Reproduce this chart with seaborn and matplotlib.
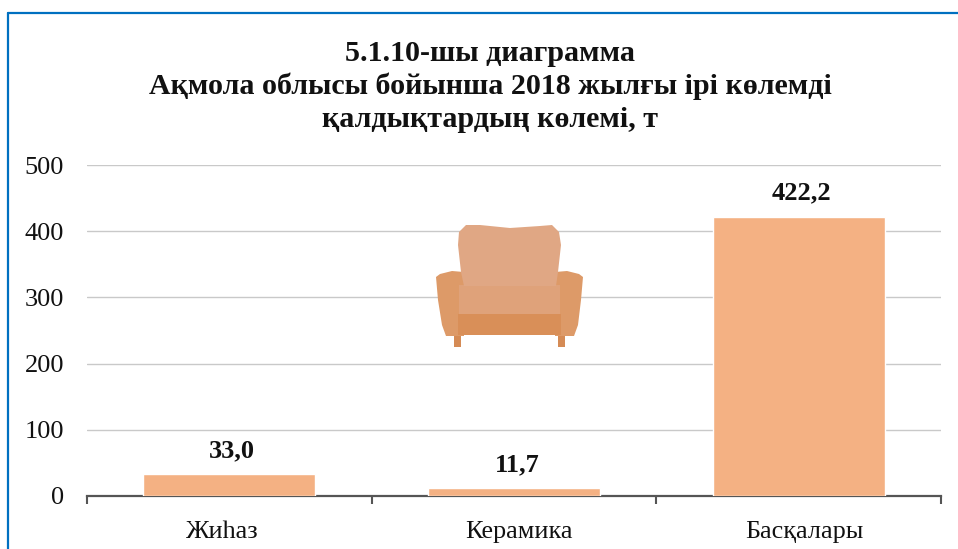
import matplotlib
matplotlib.use("Agg")
import matplotlib.pyplot as plt
from matplotlib.patches import Polygon
from matplotlib.lines import Line2D
from matplotlib.transforms import ScaledTranslation
import seaborn as sns
import pandas as pd

# Data
categories = ["Жиһаз", "Керамика", "Басқалары"]
values = [33.0, 11.7, 422.2]
value_labels = ["33,0", "11,7", "422,2"]
y_ticks = [0, 100, 200, 300, 400, 500]
title_text = "5.1.10-шы диаграмма\nАқмола облысы бойынша 2018 жылғы ірі көлемді\nқалдықтардың көлемі, т"

W, H = 958, 549
FONT = "Liberation Serif"
BAR_COLOR = "#F4B183"
TEXT_COLOR = "#111111"


def px(points):
    # image pixels -> figure fraction
    return [(x / W, 1 - y / H) for x, y in points]


def add_shape(fig, points, color, z=5):
    fig.add_artist(Polygon(px(points), closed=True, transform=fig.transFigure,
                           facecolor=color, edgecolor="none", zorder=z))


sns.set_theme(style="white")
plt.rcParams["font.family"] = [FONT, "DejaVu Serif"]

df = pd.DataFrame({"category": categories, "value": values})

fig = plt.figure(figsize=(W / 100, H / 100), dpi=100)
ax = fig.add_axes([87 / W, 1 - 496 / H, (941 - 87) / W, (496 - 165) / H])

sns.barplot(data=df, x="category", y="value", color=BAR_COLOR, saturation=1,
            width=0.605, ax=ax, zorder=3)

ax.set_xlim(-0.5, 2.5)
ax.set_ylim(0, 500)
ax.set_xlabel("")
ax.set_ylabel("")
ax.set_yticks(y_ticks)
ax.yaxis.grid(True, color="#C9C9C9", linewidth=1.0)
ax.set_axisbelow(True)
ax.tick_params(axis="y", length=0, labelsize=19, labelcolor=TEXT_COLOR, pad=16.5)
ax.tick_params(axis="x", which="major", length=0, labelsize=18.8, labelcolor=TEXT_COLOR, pad=18)
ax.set_xticks([-0.5, 0.5, 1.5, 2.5], minor=True)
ax.tick_params(axis="x", which="minor", length=5.5, width=1.5, color="#555555", bottom=True)

# category labels sit slightly off the bar centres in the original
for tick_label, dx in zip(ax.get_xticklabels(), [-7, 5, 6]):
    tick_label.set_transform(tick_label.get_transform()
                             + ScaledTranslation(dx / 100, 0, fig.dpi_scale_trans))

sns.despine(ax=ax, left=True, top=True, right=True)
ax.spines["bottom"].set_color("#555555")
ax.spines["bottom"].set_linewidth(1.6)

for i, (v, lab) in enumerate(zip(values, value_labels)):
    ax.annotate(lab, (i, v), xytext=(2, 16.8), textcoords="offset points", ha="center",
                va="center", fontsize=19, fontweight="bold", color=TEXT_COLOR)

fig.text(490 / W, 1 - 86.5 / H, title_text, ha="center", va="center", fontsize=21.6,
         fontweight="bold", color=TEXT_COLOR, linespacing=1.26)

# armchair decoration
add_shape(fig, [(454, 335), (461, 335), (461, 347), (454, 347)], "#D58B55")
add_shape(fig, [(558, 335), (565, 335), (565, 347), (558, 347)], "#D58B55")
add_shape(fig, [(436, 277), (440, 274), (452, 271), (464, 272), (464, 336), (446, 336), (442, 325), (438, 300)], "#DD9A68")
add_shape(fig, [(583, 277), (579, 274), (567, 271), (555, 272), (555, 336), (574, 336), (578, 325), (581, 300)], "#DD9A68")
add_shape(fig, [(458, 314), (561, 314), (561, 335), (458, 335)], "#D98F58")
add_shape(fig, [(459, 285), (560, 285), (560, 314), (459, 314)], "#DFA27A")
add_shape(fig, [(466, 225), (480, 225), (510, 228), (540, 226), (552, 225), (559, 232), (561, 245),
                (558, 272), (556, 286), (464, 286), (461, 272), (458, 245), (459, 232)], "#E0A784")

# blue frame around the chart
frame_color = "#0070C0"
fig.add_artist(Line2D([8 / W, 8 / W], [0, 1 - 13 / H], color=frame_color, linewidth=1.6, transform=fig.transFigure))
fig.add_artist(Line2D([8 / W, 1], [1 - 13 / H, 1 - 13 / H], color=frame_color, linewidth=1.6, transform=fig.transFigure))

fig.savefig("out.png", dpi=100)
